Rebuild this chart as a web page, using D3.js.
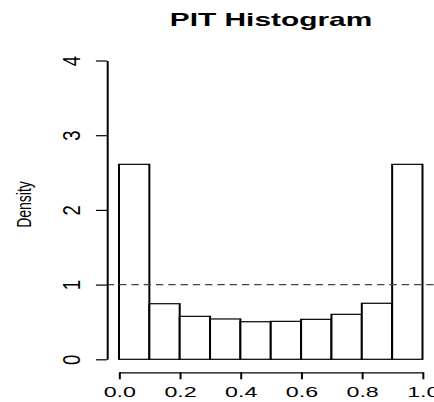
<!DOCTYPE html>
<html>
<head>
<meta charset="utf-8">
<script src="https://cdn.jsdelivr.net/npm/d3@7"></script>
<style>
  html, body { margin: 0; padding: 0; background: #fff; }
  svg { display: block; }
  text { font-family: "Liberation Sans", Arial, Helvetica, sans-serif; fill: #000; }
</style>
</head>
<body>
<div id="chart"></div>
<script>
// ---- data ----
const binEdges = [0, 0.1, 0.2, 0.3, 0.4, 0.5, 0.6, 0.7, 0.8, 0.9, 1.0];
const densities = [2.61, 0.744, 0.575, 0.54, 0.503, 0.508, 0.535, 0.602, 0.75, 2.61];
const xTicks = [0, 0.2, 0.4, 0.6, 0.8, 1.0];
const yTicks = [0, 1, 2, 3, 4];
const refLine = 1;
const titleText = "PIT Histogram";
const yLabel = "Density";

// ---- layout ----
const W = 434, H = 402;
const SX = 1.66;   // horizontal stretch of the whole figure
const RK = 0.76;   // extra local squeeze for rotated tick texts
const RL = 0.86;   // extra local squeeze for the axis title
const svg = d3.select("#chart").append("svg").attr("width", W).attr("height", H);
svg.append("defs").append("clipPath").attr("id", "clip")
  .append("rect").attr("x", 0).attr("y", 0).attr("width", W).attr("height", H);
const g = svg.append("g").attr("clip-path", "url(#clip)")
  .append("g").attr("transform", `scale(${SX},1)`);

const x = d3.scaleLinear().domain([0, 1]).range([119 / SX, 422.5 / SX]);
const y = d3.scaleLinear().domain([0, 4]).range([359.3, 60.5]);
const plotLeft = x(-0.04), plotRight = x(1.04);

// bars
const bins = densities.map((d, i) => ({ x0: binEdges[i], x1: binEdges[i + 1], v: d }));
g.selectAll("rect.bar").data(bins).enter().append("rect")
  .attr("class", "bar")
  .attr("x", d => x(d.x0))
  .attr("width", d => x(d.x1) - x(d.x0))
  .attr("y", d => y(d.v))
  .attr("height", d => y(0) - y(d.v))
  .attr("fill", "#fff")
  .attr("stroke", "#000")
  .attr("stroke-width", 1.2);

// reference line
g.append("line")
  .attr("x1", plotLeft).attr("x2", plotRight + 20)
  .attr("y1", y(refLine)).attr("y2", y(refLine))
  .attr("stroke", "#444").attr("stroke-width", 1.1)
  .attr("stroke-dasharray", "4.4,3");

// y axis
const yAxis = g.append("g").attr("transform", `translate(${plotLeft},0)`)
  .call(d3.axisLeft(y).tickValues(yTicks).tickSize(6.6).tickSizeOuter(0).tickFormat(d3.format("d")));
yAxis.selectAll("path, line").attr("stroke", "#000").attr("stroke-width", 1.2);
yAxis.selectAll("text")
  .attr("x", null).attr("dy", null)
  .attr("transform", `translate(-16.3,0) scale(${RK},1) rotate(-90)`)
  .attr("text-anchor", "middle")
  .style("font-size", "18.5px").style("font-family", '"Liberation Sans", Arial, sans-serif')
  .attr("fill", "#000");

// x axis
const xAxis = g.append("g").attr("transform", `translate(0,372.3)`)
  .call(d3.axisBottom(x).tickValues(xTicks).tickSize(7).tickSizeOuter(0).tickFormat(d3.format(".1f")));
xAxis.selectAll("path, line").attr("stroke", "#000").attr("stroke-width", 1.2);
xAxis.selectAll("text")
  .attr("y", 24.4).attr("dy", null)
  .attr("text-anchor", "middle")
  .style("font-size", "14px").style("font-family", '"Liberation Sans", Arial, sans-serif')
  .attr("fill", "#000");

// title
g.append("text")
  .attr("x", 271 / SX).attr("y", 26)
  .attr("text-anchor", "middle")
  .style("font-size", "18px").style("font-weight", "bold")
  .text(titleText);

// y label
g.append("text")
  .attr("transform", `translate(${30.8 / SX},204.5) scale(${RL},1) rotate(-90)`)
  .attr("text-anchor", "middle")
  .style("font-size", "14px")
  .text(yLabel);
</script>
</body>
</html>
